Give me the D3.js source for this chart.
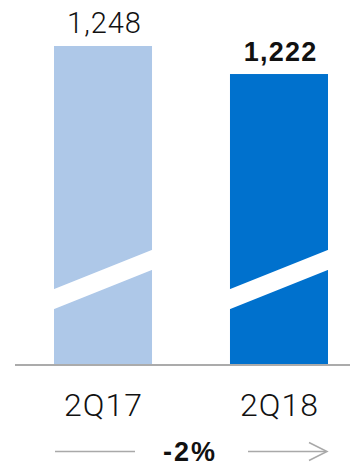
<!DOCTYPE html>
<html>
<head>
<meta charset="utf-8">
<script src="https://cdn.jsdelivr.net/npm/d3@7"></script>
<style>
  html, body { margin: 0; padding: 0; background: #fff; }
  svg { display: block; }
</style>
</head>
<body>
<svg id="chart" width="350" height="466"></svg>
<script>
// Quarterly totals
const categories = ["2Q17", "2Q18"];
const values = [1248, 1222];
const valueLabels = ["1,248", "1,222"];
const changeLabel = "-2%";

const W = 350, H = 466;
const barColors = ["#aec8e8", "#0071cd"];
const lightFont = "Roboto, 'Liberation Sans', sans-serif";
const boldFont = "'Liberation Sans', Arial, sans-serif";

const svg = d3.select("#chart");

// Broken value axis: the baseline sits at 953 rather than zero
const baseY = 364;
const x = d3.scaleBand().domain(categories).range([54, 328]).paddingInner(0.443).paddingOuter(0);
const y = d3.scaleLinear().domain([953, 1248]).range([baseY, 46]);

const data = categories.map((c, i) => ({ cat: c, value: values[i], label: valueLabels[i], color: barColors[i] }));

// Bars
svg.append("g").selectAll("rect").data(data).join("rect")
  .attr("x", d => x(d.cat))
  .attr("y", d => y(d.value))
  .attr("width", x.bandwidth())
  .attr("height", d => baseY - y(d.value))
  .attr("fill", d => d.color);

// Axis-break slash cut through each bar
svg.append("g").selectAll("path").data(data).join("path")
  .attr("d", d => {
    const x0 = x(d.cat) - 1, x1 = x(d.cat) + x.bandwidth() + 1;
    return `M${x0},${289.5}L${x1},${249.5}L${x1},${269.5}L${x0},${309.5}Z`;
  })
  .attr("fill", "#fff");

// Baseline
svg.append("line")
  .attr("x1", 15).attr("x2", 350)
  .attr("y1", baseY + 1).attr("y2", baseY + 1)
  .attr("stroke", "#ababab").attr("stroke-width", 2);

// Value labels: first one light, latest one bold
const valStyle = [
  { font: lightFont, weight: 300, size: 29, ls: 1 },
  { font: boldFont, weight: 700, size: 27, ls: 1.2 }
];
svg.append("g").selectAll("text").data(data).join("text")
  .attr("x", (d, i) => x(d.cat) + x.bandwidth() / 2 + valStyle[i].ls / 2 + 1)
  .attr("y", d => y(d.value) - 13)
  .attr("text-anchor", "middle")
  .attr("font-family", (d, i) => valStyle[i].font)
  .attr("font-weight", (d, i) => valStyle[i].weight)
  .attr("font-size", (d, i) => valStyle[i].size)
  .attr("letter-spacing", (d, i) => valStyle[i].ls)
  .attr("fill", "#111")
  .text(d => d.label);

// Category labels
svg.append("g").selectAll("text").data(data).join("text")
  .attr("x", d => x(d.cat) + x.bandwidth() / 2 + 0.5)
  .attr("y", 416)
  .attr("text-anchor", "middle")
  .attr("font-family", lightFont)
  .attr("font-weight", 300)
  .attr("font-size", 32)
  .attr("letter-spacing", 1)
  .attr("fill", "#111")
  .text(d => d.cat);

// Change indicator with arrow
const arrowY = 451.5;
const grey = "#a9a9a9";
svg.append("line").attr("x1", 55).attr("x2", 135).attr("y1", arrowY).attr("y2", arrowY)
  .attr("stroke", grey).attr("stroke-width", 1.5);
svg.append("line").attr("x1", 248).attr("x2", 326).attr("y1", arrowY).attr("y2", arrowY)
  .attr("stroke", grey).attr("stroke-width", 1.5);
svg.append("path").attr("d", `M309,${arrowY - 9}L327,${arrowY}L309,${arrowY + 9}`)
  .attr("fill", "none").attr("stroke", grey).attr("stroke-width", 1.5);

svg.append("text")
  .attr("x", 190).attr("y", 461)
  .attr("text-anchor", "middle")
  .attr("font-family", boldFont)
  .attr("font-weight", 700)
  .attr("font-size", 27)
  .attr("letter-spacing", 2)
  .attr("fill", "#111")
  .text(changeLabel);
</script>
</body>
</html>
